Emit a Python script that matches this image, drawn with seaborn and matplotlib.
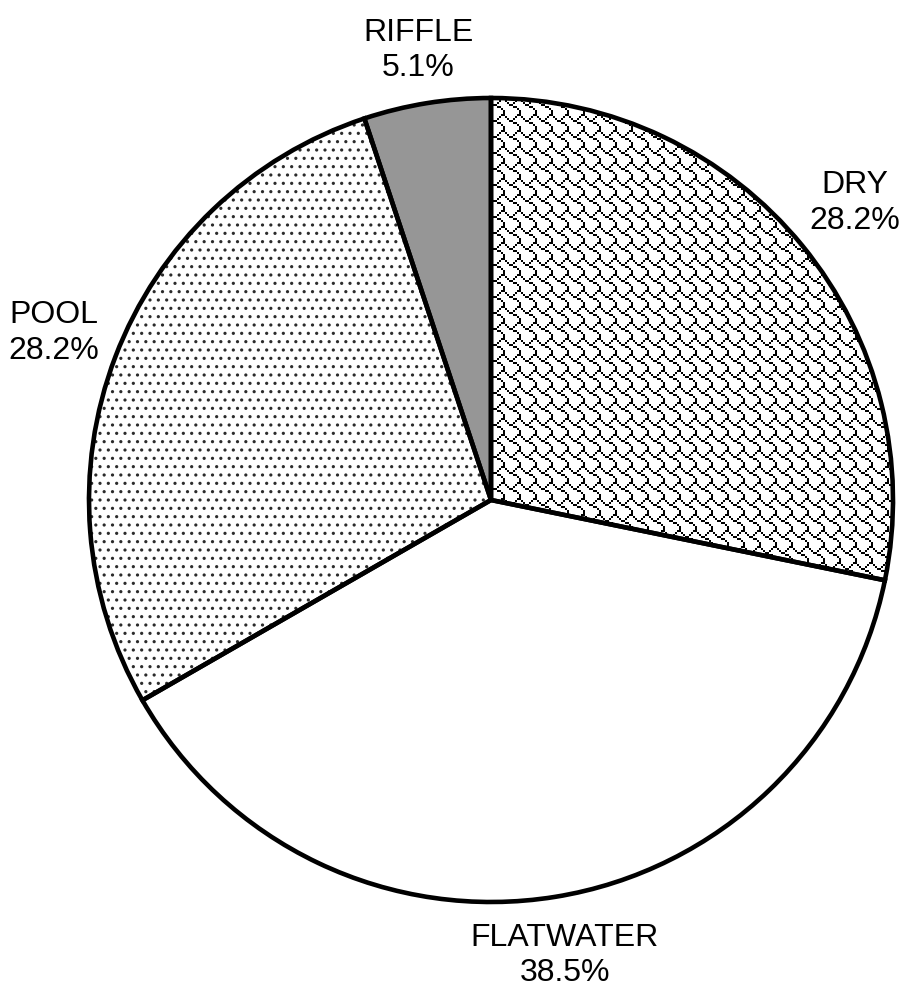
import numpy as np
import matplotlib
matplotlib.use("Agg")
import matplotlib.pyplot as plt
import seaborn as sns

# Share of surveyed reach length by habitat type
categories = ["DRY", "FLATWATER", "POOL", "RIFFLE"]
shares = [28.2, 38.5, 28.2, 5.1]
share_labels = ["28.2%", "38.5%", "28.2%", "5.1%"]

sns.set_theme(style="white")
plt.rcParams["font.family"] = ["Liberation Sans", "DejaVu Sans"]
plt.rcParams["hatch.linewidth"] = 1.1

W, H, DPI = 911, 990, 100
CX, CY, R = 491, 500, 402          # pie centre / radius in pixels (CY from top)
fig = plt.figure(figsize=(W / DPI, H / DPI), dpi=DPI)
fig.patch.set_facecolor("white")
ax = fig.add_axes([(CX - R) / W, (H - CY - R) / H, 2 * R / W, 2 * R / H])

fills = ["white", "white", "white", "#969696"]

# filled wedges (no outline yet)
wedges, _ = ax.pie(shares, startangle=90, counterclock=False, colors=fills,
                   wedgeprops=dict(linewidth=0, edgecolor="#2b2b2b"))
wedges[2].set_hatch("..")

# shingle texture for the DRY wedge: 8x8 bitmap repeated, 2 px per bit
rows = [0x03, 0x84, 0x48, 0x30, 0x0C, 0x02, 0x01, 0x01]
tile = np.array([[(r >> (7 - b)) & 1 for b in range(8)] for r in rows], float)
tile = np.kron(tile, np.ones((2, 2)))
n = 2 * R
reps = n // tile.shape[0] + 2
bits = np.tile(tile, (reps, reps))[:n, :n]
img = np.repeat((1.0 - bits)[:, :, None], 3, axis=2)
im = ax.imshow(img, extent=(-1, 1, -1, 1), interpolation="nearest", zorder=1.5)
im.set_clip_path(wedges[0])

# outlines on top
outline, _ = ax.pie(shares, startangle=90, counterclock=False,
                    colors=["none"] * len(shares),
                    wedgeprops=dict(linewidth=3.3, edgecolor="black",
                                    joinstyle="miter"))
for w in outline:
    w.set_zorder(3)

ax.set_xlim(-1, 1)
ax.set_ylim(-1, 1)
ax.set_aspect("equal")
ax.axis("off")

# category labels outside each wedge, kept a small gap off the rim
fig.canvas.draw()
renderer = fig.canvas.get_renderer()
gap = 12
for w, cat, pct in zip(wedges, categories, share_labels):
    ang = np.deg2rad((w.theta1 + w.theta2) / 2)
    t = ax.text(0, 0, f"{cat}\n{pct}", ha="center", va="center",
                fontsize=23, color="black", linespacing=1.25)
    bb = t.get_window_extent(renderer)
    hw, hh = bb.width / 2, bb.height / 2
    dist = R + gap + abs(np.cos(ang)) * hw + abs(np.sin(ang)) * hh
    t.set_position((np.cos(ang) * dist / R, np.sin(ang) * dist / R))

fig.savefig("out.png", dpi=DPI, facecolor="white")
